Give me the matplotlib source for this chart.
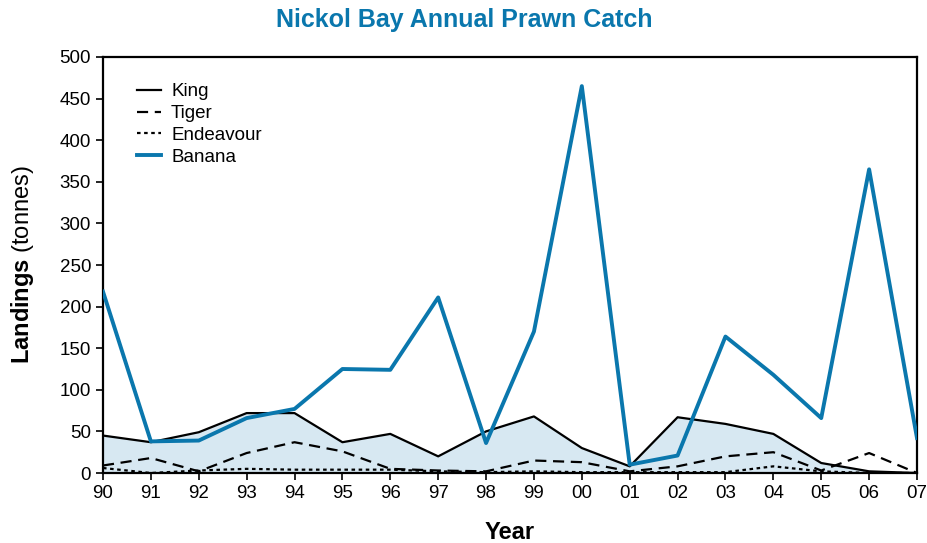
import matplotlib

matplotlib.use("Agg")

import matplotlib.pyplot as plt
import numpy as np

years = ["90", "91", "92", "93", "94", "95", "96", "97", "98", "99",
         "00", "01", "02", "03", "04", "05", "06", "07"]
king = [45, 37, 49, 72, 72, 37, 47, 20, 50, 68, 30, 8, 67, 59, 47, 12, 2, 0]
tiger = [9, 18, 2, 24, 37, 26, 5, 3, 2, 15, 13, 2, 8, 20, 25, 3, 24, 0]
endeavour = [6, 0, 3, 5, 4, 4, 4, 2, 1, 2, 1, 1, 1, 1, 8, 2, 0, 0]
banana = [218, 38, 39, 66, 77, 125, 124, 211, 36, 170, 465, 10, 21, 164,
          118, 66, 365, 42]

plt.rcParams["font.family"] = ["Liberation Sans", "DejaVu Sans"]
plt.rcParams["mathtext.fontset"] = "custom"
plt.rcParams["mathtext.rm"] = "Liberation Sans"
plt.rcParams["mathtext.bf"] = "Liberation Sans:bold"

blue = "#0a77ad"
x = np.arange(len(years))

fig = plt.figure(figsize=(9.28, 5.43), dpi=100)
ax = fig.add_axes([103 / 928, 70 / 543, 814 / 928, 416 / 543])

ax.fill_between(x, king, 0, color="#d7e8f2", linewidth=0, zorder=1)
ax.plot(x, king, color="black", lw=1.6, label="King", zorder=3)
ax.plot(x, tiger, color="black", lw=1.6, ls=(0, (5, 3)), label="Tiger", zorder=3)
ax.plot(x, endeavour, color="black", lw=1.6, ls=(0, (1.6, 1.6)),
        label="Endeavour", zorder=3)
ax.plot(x, banana, color=blue, lw=2.8, label="Banana", zorder=4)

ax.set_xlim(0, len(years) - 1)
ax.set_ylim(0, 500)
ax.set_xticks(x)
ax.set_xticklabels(years)
ax.set_yticks(np.arange(0, 501, 50))
ax.tick_params(axis="both", labelsize=13.5, direction="out", length=5,
               width=1.2, colors="black")
for spine in ax.spines.values():
    spine.set_linewidth(1.6)

ax.set_xlabel("Year", fontsize=17, fontweight="bold", labelpad=14)
ax.set_ylabel(r"$\mathbf{Landings}$ (tonnes)", fontsize=17, labelpad=17)

fig.text(0.5, 0.963, "Nickol Bay Annual Prawn Catch", ha="center",
         va="center", fontsize=18, fontweight="bold", color=blue)

ax.legend(loc="upper left", bbox_to_anchor=(0.033, 0.955), frameon=False,
          fontsize=13.5, handlelength=1.25, handletextpad=0.55,
          labelspacing=0.25, borderaxespad=0)

fig.savefig("out.png", dpi=100)
plt.close(fig)
